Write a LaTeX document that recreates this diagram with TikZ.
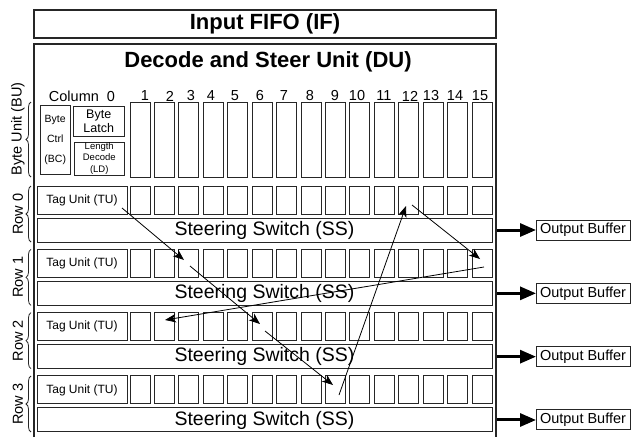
\documentclass[tikz,border=0pt]{standalone}
\usepackage{fontspec}
\setmainfont{Liberation Sans}
\usetikzlibrary{arrows.meta,decorations.pathreplacing}
\begin{document}
\begin{tikzpicture}[x=1pt,y=-1pt,
  frame/.style={draw=black!85, line width=1.1pt},
  cell/.style={draw=black!85, line width=1pt, inner sep=0pt, outer sep=0pt, minimum width=20pt},
  blk/.style={draw=black!85, line width=1pt, inner sep=0pt, outer sep=0pt},
  flow/.style={line width=0.8pt, -{Stealth[length=11pt,width=8.5pt,inset=3pt]}},
  outarrow/.style={line width=3pt, -{Triangle[length=16pt,width=13pt]}},
  lbl/.style={inner sep=0pt, font=\fontsize{14.5}{17}\selectfont},
  ubrace/.style={decorate, decoration={brace, amplitude=5pt}, line width=0.8pt, draw=black!85}]
\useasboundingbox (0,0) rectangle (634,437);

% Input FIFO
\node[blk, line width=1.1pt, minimum width=462pt, minimum height=28pt, anchor=north west,
      font=\bfseries\fontsize{22}{24}\selectfont] (if) at (34,10) {Input FIFO (IF)};

% Decode and Steer Unit frame (open at the bottom)
\coordinate (dul) at (34,437);
\coordinate (dur) at (496,437);
\draw[frame] (dul) -- (34,44) -- (496,44) -- (dur);
\node[inner sep=0pt, font=\bfseries\fontsize{22}{24}\selectfont] (dutitle) at (268,62) {Decode and Steer Unit (DU)};

% Column headers
\node[lbl] (col0) at (82,96) {Column\ \ 0};
\foreach \k/\x in {1/145,2/170,3/191,4/211,5/235,6/260,7/284,8/310,9/335,10/357,11/384,12/410,13/431,14/455,15/480}
  \node[lbl] (h\k) at (\x,96) {\k};

% Byte unit column 0
\node[blk, double, double distance=1.2pt, line width=0.7pt, minimum width=89pt, minimum height=73pt] (bu) at (82.5,139.5) {};
\node[blk, minimum width=29.5pt, minimum height=69pt, align=center,
      font=\fontsize{10.5}{20}\selectfont] (bc) at (55.25,139.5) {Byte\\Ctrl\\(BC)};
\node[blk, minimum width=51pt, minimum height=30pt, align=center,
      font=\fontsize{12.5}{14}\selectfont] (bl) at (98.75,121) {Byte\\Latch};
\node[blk, minimum width=50.5pt, minimum height=33pt, align=center,
      font=\fontsize{9.5}{11.5}\selectfont] (ld) at (99.25,158.5) {Length\\Decode\\(LD)};

% Byte unit columns 1..15
\foreach \k in {1,...,15}{
  \pgfmathsetmacro\xl{130+(\k-1)*24.43}
  \node[cell, minimum height=75pt, anchor=north west] (c\k) at (\xl,102) {};
}

% Byte unit label
\draw[ubrace] (31,177) -- (31,102);
\node[lbl, rotate=90] (bulbl) at (18,129) {Byte Unit (BU)};

% Rows
\foreach \r in {0,...,3}{
  \pgfmathsetmacro\T{186+\r*63.33}
  \pgfmathsetmacro\S{\T+32}
  \pgfmathsetmacro\M{\T+44}
  \pgfmathsetmacro\B{\T+56}
  \pgfmathsetmacro\C{\T+28}
  \node[blk, minimum width=90pt, minimum height=28pt, anchor=north west,
        font=\fontsize{12}{14}\selectfont] (tu\r) at (37,\T) {Tag Unit (TU)};
  \foreach \k in {1,...,15}{
    \pgfmathsetmacro\xl{130+(\k-1)*24.43}
    \node[cell, minimum height=28pt, anchor=north west] (r\r c\k) at (\xl,\T) {};
  }
  \node[blk, minimum width=455pt, minimum height=24pt, anchor=north west,
        font=\fontsize{19.5}{22}\selectfont] (ss\r) at (37,\S) {Steering Switch (SS)};
  \node[blk, minimum width=94pt, minimum height=20pt,
        font=\fontsize{14.5}{17}\selectfont] (ob\r) at (583,\M) {Output Buffer};
  \coordinate (du\r) at (497,\M);
  \draw[outarrow] (du\r) -- (ob\r.west);
  \draw[ubrace] (31,\B) -- (31,\T);
  \node[lbl, rotate=90] (row\r) at (18,\C) {Row \r};
}

% Steering flow
\coordinate (p1s) at (122,208);
\coordinate (p1e) at (184,260);
\coordinate (p2s) at (190,266);
\coordinate (p2e) at (260,324);
\coordinate (p3s) at (265,331);
\coordinate (p3e) at (333,385);
\coordinate (p4s) at (339,395);
\coordinate (p4e) at (406,206);
\coordinate (p5s) at (412,205);
\coordinate (p5e) at (480,259);
\coordinate (p6s) at (484,267);
\coordinate (p6e) at (165,320);
\draw[flow] (p1s) -- (p1e);
\draw[flow] (p2s) -- (p2e);
\draw[flow] (p3s) -- (p3e);
\draw[flow] (p4s) -- (p4e);
\draw[flow] (p5s) -- (p5e);
\draw[flow] (p6s) -- (p6e);
\end{tikzpicture}
\end{document}
